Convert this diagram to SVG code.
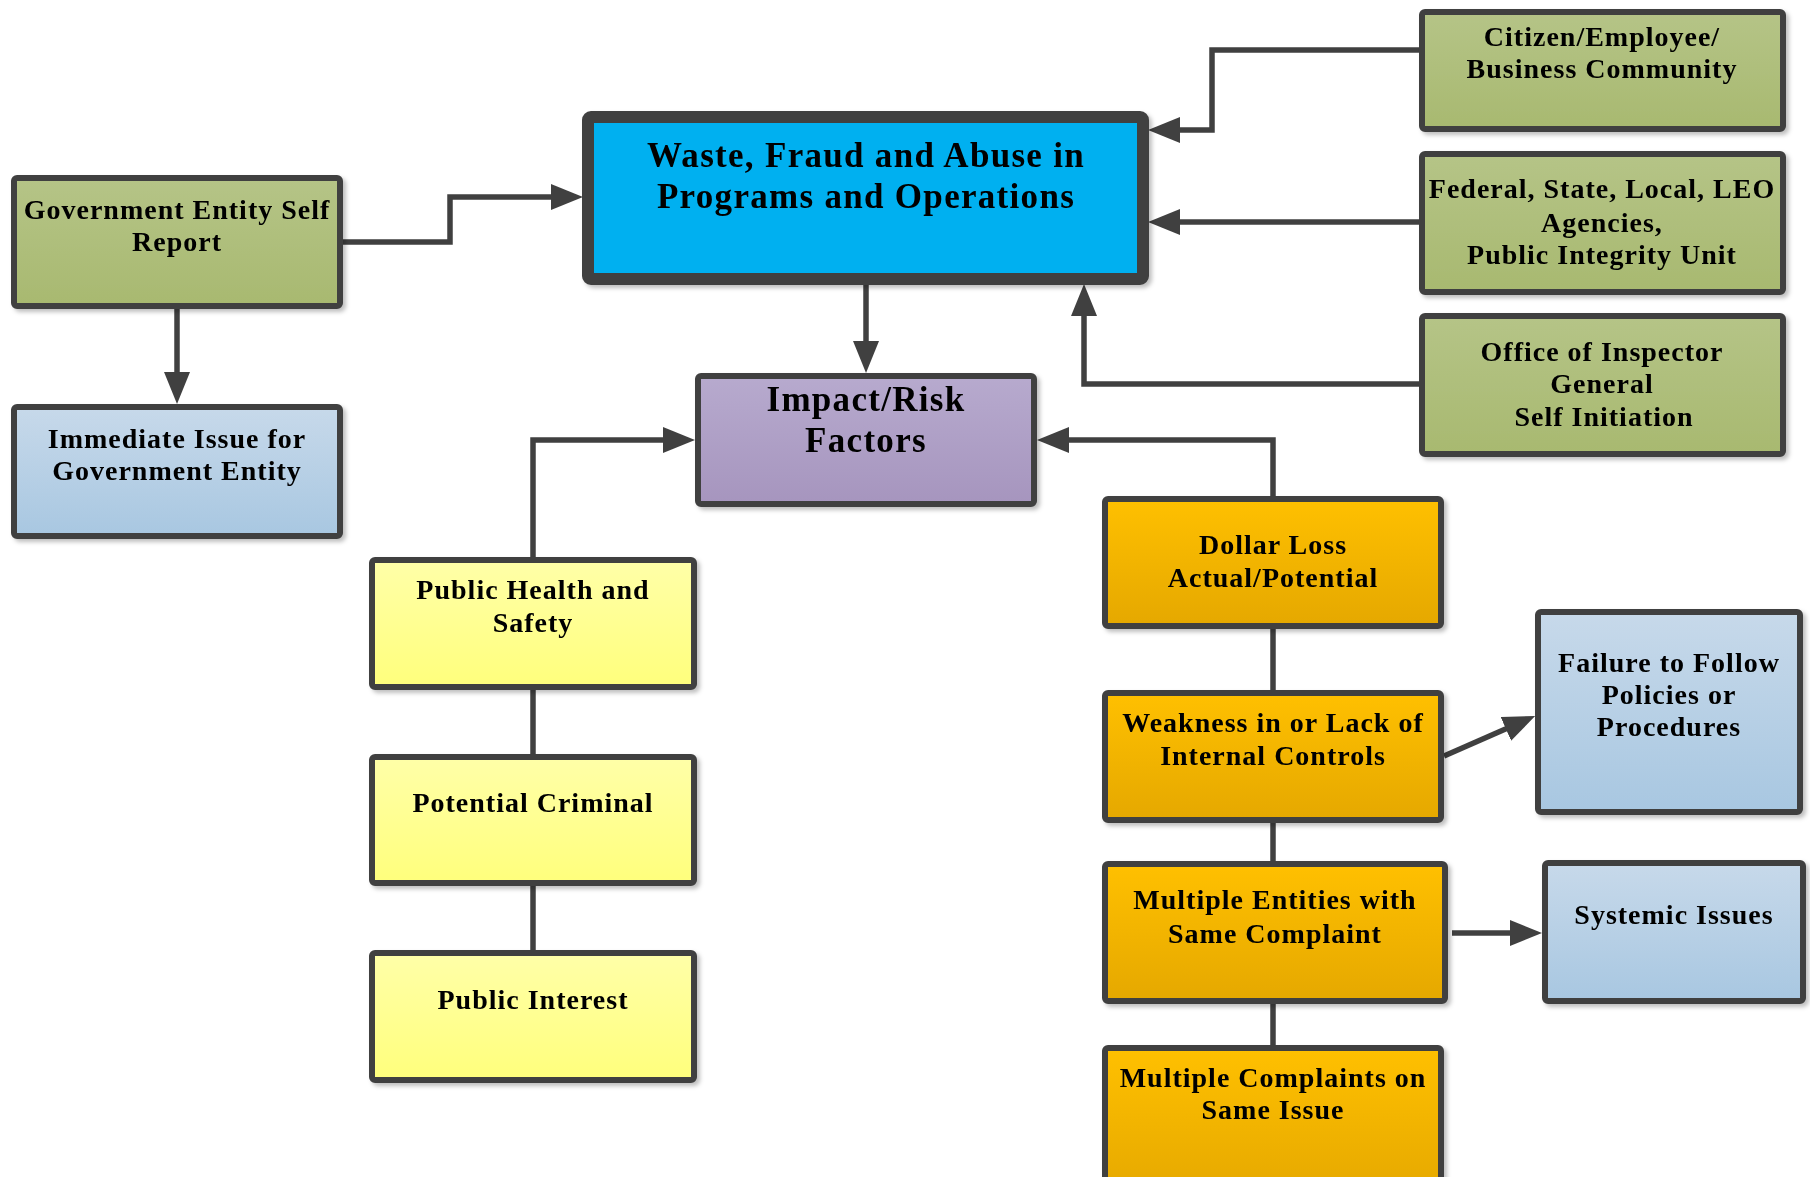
<svg xmlns="http://www.w3.org/2000/svg" width="1810" height="1177" viewBox="0 0 1810 1177">
<style>
.box{stroke:#404040;stroke-width:6;}
.big{stroke-width:12;}
.t{font-family:"Liberation Serif","Times New Roman",serif;font-weight:bold;font-size:28px;letter-spacing:1px;fill:#000;text-anchor:middle;}
.tb{font-size:35px;letter-spacing:1.3px;}
.c{fill:none;stroke:#404040;stroke-width:5.5;}
.a{marker-end:url(#ah);}
</style>
<defs>
<filter id="sh" x="-5%" y="-5%" width="115%" height="115%">
<feDropShadow dx="3" dy="3" stdDeviation="2" flood-color="#000" flood-opacity="0.25"/>
</filter>
<linearGradient id="gG" x1="0" y1="0" x2="0" y2="1"><stop offset="0" stop-color="#B5C487"/><stop offset="1" stop-color="#A8B970"/></linearGradient>
<linearGradient id="gB" x1="0" y1="0" x2="0" y2="1"><stop offset="0" stop-color="#C7D9EA"/><stop offset="1" stop-color="#A8C7E1"/></linearGradient>
<linearGradient id="gP" x1="0" y1="0" x2="0" y2="1"><stop offset="0" stop-color="#B7AACE"/><stop offset="1" stop-color="#A695BE"/></linearGradient>
<linearGradient id="gY" x1="0" y1="0" x2="0" y2="1"><stop offset="0" stop-color="#FFFFA8"/><stop offset="1" stop-color="#FFFF7C"/></linearGradient>
<linearGradient id="gO" x1="0" y1="0" x2="0" y2="1"><stop offset="0" stop-color="#FFC000"/><stop offset="1" stop-color="#E5A800"/></linearGradient>
<marker id="ah" viewBox="0 0 32 26" refX="22" refY="13" markerWidth="32" markerHeight="26" markerUnits="userSpaceOnUse" orient="auto">
<path d="M0,0 L32,13 L0,26 z" fill="#404040"/>
</marker>
</defs>

<g id="connectors">
<path class="c a" d="M340,242 H450 V197 H573"/>
<path class="c a" d="M177,306 V394"/>
<path class="c a" d="M1422,50 H1212 V130 H1158"/>
<path class="c a" d="M1422,222 H1158"/>
<path class="c a" d="M1422,384 H1084 V294"/>
<path class="c a" d="M866,279 V363"/>
<path class="c a" d="M533,560 V440 H685"/>
<path class="c a" d="M1273,499 V440 H1047"/>
<path class="c" d="M533,687 V757"/>
<path class="c" d="M533,883 V953"/>
<path class="c" d="M1273,626 V693"/>
<path class="c" d="M1273,820 V864"/>
<path class="c" d="M1273,1001 V1048"/>
<path class="c a" d="M1444,756 L1526,720"/>
<path class="c a" d="M1452,933 H1532"/>
</g>

<g id="gov-self-report" filter="url(#sh)">
<rect class="box" x="14" y="178" width="326" height="128" rx="3" fill="url(#gG)"/>
<text class="t" x="177" y="219">Government Entity Self</text>
<text class="t" x="177" y="251">Report</text>
</g>

<g id="immediate-issue" filter="url(#sh)">
<rect class="box" x="14" y="407" width="326" height="129" rx="3" fill="url(#gB)"/>
<text class="t" x="177" y="448">Immediate Issue for</text>
<text class="t" x="177" y="480">Government Entity</text>
</g>

<g id="waste-fraud-abuse" filter="url(#sh)">
<rect class="box big" x="588" y="117" width="555" height="162" rx="3" fill="#00B0F0"/>
<text class="t tb" x="866" y="167">Waste, Fraud and Abuse in</text>
<text class="t tb" x="866" y="208">Programs and Operations</text>
</g>

<g id="citizen" filter="url(#sh)">
<rect class="box" x="1422" y="12" width="361" height="117" rx="3" fill="url(#gG)"/>
<text class="t" x="1602" y="46">Citizen/Employee/</text>
<text class="t" x="1602" y="78">Business Community</text>
</g>

<g id="federal" filter="url(#sh)">
<rect class="box" x="1422" y="154" width="361" height="138" rx="3" fill="url(#gG)"/>
<text class="t" x="1602" y="198">Federal, State, Local, LEO</text>
<text class="t" x="1602" y="232">Agencies,</text>
<text class="t" x="1602" y="264">Public Integrity Unit</text>
</g>

<g id="oig" filter="url(#sh)">
<rect class="box" x="1422" y="316" width="361" height="138" rx="3" fill="url(#gG)"/>
<text class="t" x="1602" y="361">Office of Inspector</text>
<text class="t" x="1602" y="393">General</text>
<text class="t" x="1604" y="426">Self Initiation</text>
</g>

<g id="impact-risk" filter="url(#sh)">
<rect class="box" x="698" y="376" width="336" height="128" rx="3" fill="url(#gP)"/>
<text class="t tb" x="866" y="411">Impact/Risk</text>
<text class="t tb" x="866" y="452">Factors</text>
</g>

<g id="public-health" filter="url(#sh)">
<rect class="box" x="372" y="560" width="322" height="127" rx="3" fill="url(#gY)"/>
<text class="t" x="533" y="599">Public Health and</text>
<text class="t" x="533" y="632">Safety</text>
</g>

<g id="potential-criminal" filter="url(#sh)">
<rect class="box" x="372" y="757" width="322" height="126" rx="3" fill="url(#gY)"/>
<text class="t" x="533" y="812">Potential Criminal</text>
</g>

<g id="public-interest" filter="url(#sh)">
<rect class="box" x="372" y="953" width="322" height="127" rx="3" fill="url(#gY)"/>
<text class="t" x="533" y="1009">Public Interest</text>
</g>

<g id="dollar-loss" filter="url(#sh)">
<rect class="box" x="1105" y="499" width="336" height="127" rx="3" fill="url(#gO)"/>
<text class="t" x="1273" y="554">Dollar Loss</text>
<text class="t" x="1273" y="587">Actual/Potential</text>
</g>

<g id="weakness" filter="url(#sh)">
<rect class="box" x="1105" y="693" width="336" height="127" rx="3" fill="url(#gO)"/>
<text class="t" x="1273" y="732">Weakness in or Lack of</text>
<text class="t" x="1273" y="765">Internal Controls</text>
</g>

<g id="multiple-entities" filter="url(#sh)">
<rect class="box" x="1105" y="864" width="340" height="137" rx="3" fill="url(#gO)"/>
<text class="t" x="1275" y="909">Multiple Entities with</text>
<text class="t" x="1275" y="943">Same Complaint</text>
</g>

<g id="multiple-complaints" filter="url(#sh)">
<rect class="box" x="1105" y="1048" width="336" height="150" rx="3" fill="url(#gO)"/>
<text class="t" x="1273" y="1087">Multiple Complaints on</text>
<text class="t" x="1273" y="1119">Same Issue</text>
</g>

<g id="failure-policies" filter="url(#sh)">
<rect class="box" x="1538" y="612" width="262" height="200" rx="3" fill="url(#gB)"/>
<text class="t" x="1669" y="672">Failure to Follow</text>
<text class="t" x="1669" y="704">Policies or</text>
<text class="t" x="1669" y="736">Procedures</text>
</g>

<g id="systemic-issues" filter="url(#sh)">
<rect class="box" x="1545" y="863" width="258" height="138" rx="3" fill="url(#gB)"/>
<text class="t" x="1674" y="924">Systemic Issues</text>
</g>
</svg>
